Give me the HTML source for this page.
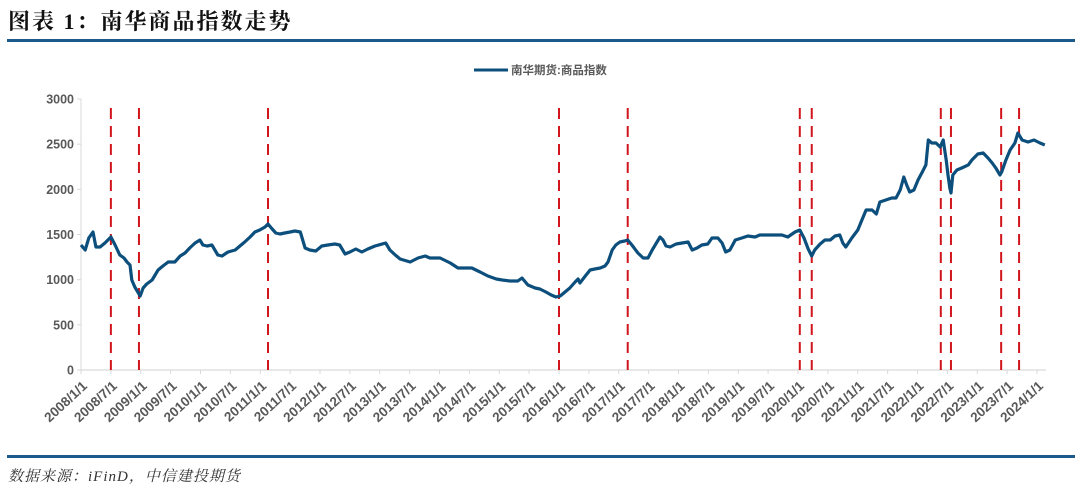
<!DOCTYPE html>
<html><head><meta charset="utf-8"><style>
body{margin:0;background:#fff;width:1080px;height:496px;overflow:hidden;position:relative;font-family:"Liberation Sans","Noto Sans CJK SC",sans-serif}
.title{position:absolute;left:8px;top:5px;font-family:"Liberation Serif","Noto Serif CJK SC",serif;font-weight:bold;font-size:22px;letter-spacing:2px;color:#111}
.rule{position:absolute;left:7px;width:1068px;height:3px;background:#1c5a8a}
.src{position:absolute;left:8px;top:465px;font-family:"Liberation Serif","Noto Serif CJK SC",serif;font-style:italic;font-size:15px;color:#333;letter-spacing:1px}
</style></head><body>
<div class="title">图表 1：南华商品指数走势</div>
<div class="rule" style="top:39px"></div>
<svg id="chart" width="1080" height="496" style="position:absolute;left:0;top:0"></svg>
<div class="rule" style="top:455px"></div>
<div class="src">数据来源：iFinD，中信建投期货</div>
<script>
const years=[2008.00,2008.07,2008.13,2008.20,2008.25,2008.32,2008.40,2008.50,2008.57,2008.65,2008.72,2008.77,2008.82,2008.85,2008.90,2008.95,2008.99,2009.04,2009.10,2009.19,2009.29,2009.37,2009.46,2009.57,2009.66,2009.74,2009.82,2009.91,2009.99,2010.04,2010.11,2010.19,2010.29,2010.36,2010.46,2010.58,2010.66,2010.74,2010.83,2010.91,2010.99,2011.08,2011.13,2011.20,2011.26,2011.33,2011.41,2011.50,2011.58,2011.67,2011.75,2011.83,2011.93,2012.03,2012.13,2012.25,2012.33,2012.42,2012.50,2012.60,2012.70,2012.80,2012.92,2013.10,2013.17,2013.26,2013.34,2013.51,2013.64,2013.76,2013.84,2014.01,2014.18,2014.31,2014.43,2014.54,2014.68,2014.81,2014.95,2015.05,2015.18,2015.31,2015.38,2015.48,2015.60,2015.68,2015.78,2015.87,2015.95,2016.02,2016.10,2016.18,2016.27,2016.32,2016.35,2016.44,2016.52,2016.60,2016.69,2016.77,2016.82,2016.89,2016.95,2017.02,2017.10,2017.15,2017.22,2017.32,2017.41,2017.49,2017.56,2017.61,2017.69,2017.74,2017.79,2017.86,2017.96,2018.06,2018.16,2018.23,2018.31,2018.39,2018.49,2018.56,2018.66,2018.73,2018.79,2018.86,2018.95,2019.06,2019.16,2019.28,2019.36,2019.50,2019.61,2019.73,2019.83,2019.95,2020.03,2020.10,2020.17,2020.23,2020.28,2020.37,2020.45,2020.54,2020.62,2020.70,2020.75,2020.80,2020.90,2021.00,2021.07,2021.14,2021.24,2021.31,2021.37,2021.47,2021.57,2021.64,2021.71,2021.77,2021.82,2021.87,2021.94,2022.01,2022.08,2022.14,2022.18,2022.24,2022.31,2022.38,2022.43,2022.48,2022.51,2022.54,2022.56,2022.59,2022.66,2022.74,2022.85,2022.91,2023.01,2023.10,2023.18,2023.25,2023.31,2023.38,2023.41,2023.48,2023.55,2023.63,2023.68,2023.75,2023.85,2023.95,2024.05,2024.13];
const values=[1384,1328,1461,1528,1362,1362,1406,1472,1384,1273,1240,1196,1162,996,919,863,819,908,952,996,1107,1151,1196,1196,1262,1295,1351,1406,1439,1384,1373,1384,1273,1262,1306,1328,1373,1417,1472,1528,1550,1583,1616,1561,1517,1506,1517,1528,1539,1528,1351,1328,1317,1373,1384,1395,1384,1284,1306,1340,1306,1340,1373,1406,1328,1273,1229,1196,1240,1262,1240,1240,1184,1129,1129,1129,1085,1041,1007,996,985,985,1018,941,908,897,863,830,808,819,863,908,974,1007,963,1041,1107,1118,1129,1151,1196,1328,1384,1417,1428,1439,1384,1295,1240,1240,1328,1384,1472,1439,1373,1362,1395,1406,1417,1328,1351,1384,1395,1461,1461,1406,1306,1328,1439,1461,1483,1472,1494,1494,1494,1494,1472,1528,1550,1461,1340,1262,1328,1395,1439,1439,1483,1494,1406,1362,1461,1550,1661,1771,1771,1727,1860,1882,1904,1904,1993,2137,2048,1971,1993,2104,2192,2270,2546,2513,2513,2469,2546,2325,2159,2015,1959,2159,2214,2236,2270,2325,2391,2402,2347,2292,2236,2159,2192,2325,2435,2513,2624,2546,2524,2546,2513,2491];
const eventYears=[2008.50,2008.97,2011.13,2016.00,2017.15,2020.03,2020.23,2022.39,2022.56,2023.40,2023.70];
const yTicks=[0,500,1000,1500,2000,2500,3000];
const xTickLabels=[];for(let y=2008;y<=2024;y++){xTickLabels.push(y+'/1/1');if(y<2024)xTickLabels.push(y+'/7/1');}

const NS='http://www.w3.org/2000/svg',svg=document.getElementById('chart');
const X=t=>81+(t-2008)*59.75, Y=v=>370-v*271/3000;
function mk(tag,attrs,parent){const e=document.createElementNS(NS,tag);for(const k in attrs)e.setAttribute(k,attrs[k]);(parent||svg).appendChild(e);return e;}
let ax=mk('line',{x1:81,y1:99,x2:81,y2:370,stroke:'#d9d9d9','stroke-width':1});


let bx=mk('line',{x1:81,y1:370,x2:1046,y2:370,stroke:'#d9d9d9','stroke-width':1.2});


yTicks.forEach(v=>{
  mk('line',{x1:77,y1:Y(v),x2:81,y2:Y(v),stroke:'#d9d9d9'});
  const t=mk('text',{x:74,y:Y(v)+4.5,'text-anchor':'end','font-size':12.5,'font-weight':'bold',fill:'#595959'});
  t.textContent=v;
  
  
});
xTickLabels.forEach((lab,i)=>{
  const x=X(2008+i/2);
  mk('line',{x1:x,y1:370,x2:x,y2:374,stroke:'#d9d9d9'});
  const t=mk('text',{x:x+7,y:387,'text-anchor':'end','font-size':13.5,'font-weight':'bold',fill:'#595959',transform:`rotate(-43 ${x+7} 387)`});
  t.textContent=lab;
  
  
});
eventYears.forEach(yr=>{
  const l=mk('line',{x1:X(yr),y1:108,x2:X(yr),y2:370,stroke:'#d0161c','stroke-width':2,'stroke-dasharray':'11,7'});
  
  
});
const p=mk('polyline',{points:years.map((t,i)=>X(t).toFixed(1)+','+Y(values[i]).toFixed(1)).join(' '),fill:'none',stroke:'#0d4f7c','stroke-width':3.2,'stroke-linejoin':'round'});


const lg=mk('line',{x1:474,y1:70,x2:508,y2:70,stroke:'#0d4f7c','stroke-width':3});


const lt=mk('text',{x:511,y:74,'font-size':11.5,'font-weight':'bold',fill:'#595959'});
lt.textContent='南华期货:商品指数';


</script>
</body></html>
